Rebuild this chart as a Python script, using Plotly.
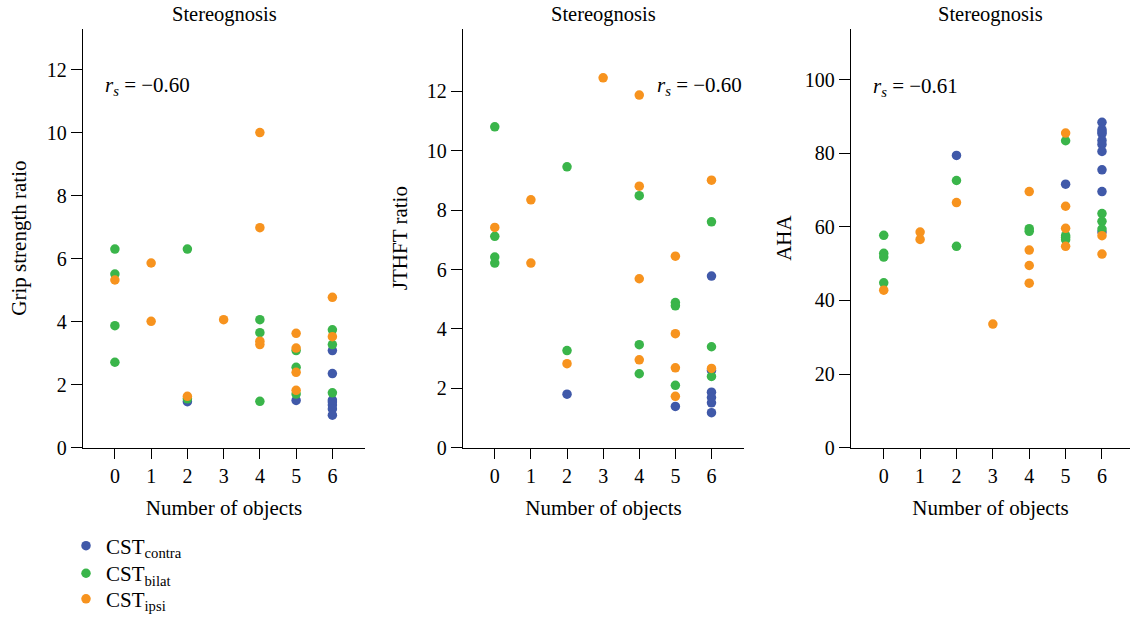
import plotly.graph_objects as go

# ---------------- data ----------------
# Panel 1: Grip strength ratio vs number of objects
grip_contra_x = [2, 5, 6, 6, 6, 6, 6, 6, 6]
grip_contra_y = [1.46, 1.50, 3.08, 2.35, 1.51, 1.45, 1.35, 1.23, 1.03]
grip_bilat_x = [0, 0, 0, 0, 2, 2, 4, 4, 4, 5, 5, 5, 6, 6, 6]
grip_bilat_y = [6.30, 5.51, 3.87, 2.71, 6.30, 1.55, 4.06, 3.65, 1.47, 3.08, 2.55, 1.70, 3.74, 3.27, 1.74]
grip_ipsi_x = [0, 1, 1, 2, 3, 4, 4, 4, 4, 5, 5, 5, 5, 6, 6]
grip_ipsi_y = [5.32, 5.86, 4.01, 1.63, 4.06, 10.0, 6.98, 3.38, 3.27, 3.63, 3.16, 2.39, 1.82, 4.77, 3.52]

# Panel 2: JTHFT ratio
jt_contra_x = [2, 5, 6, 6, 6, 6, 6, 6]
jt_contra_y = [1.80, 1.39, 5.78, 2.60, 1.87, 1.69, 1.51, 1.18]
jt_bilat_x = [0, 0, 0, 0, 2, 2, 4, 4, 4, 5, 5, 5, 6, 6, 6]
jt_bilat_y = [10.81, 7.12, 6.42, 6.22, 9.46, 3.27, 8.49, 3.47, 2.49, 4.89, 4.78, 2.10, 7.61, 3.40, 2.40]
jt_ipsi_x = [0, 1, 1, 2, 3, 4, 4, 4, 4, 5, 5, 5, 5, 6, 6]
jt_ipsi_y = [7.42, 8.35, 6.22, 2.83, 12.46, 11.88, 8.81, 5.69, 2.96, 6.45, 3.84, 2.69, 1.73, 9.01, 2.67]

# Panel 3: AHA
aha_contra_x = [2, 5, 6, 6, 6, 6, 6, 6, 6, 6, 6, 6]
aha_contra_y = [79.4, 71.6, 88.4, 86.4, 85.8, 85.3, 83.5, 82.4, 80.5, 75.5, 69.6, 58.6]
aha_bilat_x = [0, 0, 0, 0, 2, 2, 4, 4, 5, 5, 5, 5, 6, 6, 6]
aha_bilat_y = [57.7, 52.8, 51.8, 44.8, 72.6, 54.7, 59.5, 58.8, 83.4, 57.6, 57.1, 56.5, 63.6, 61.5, 59.4]
aha_ipsi_x = [0, 1, 1, 2, 3, 4, 4, 4, 4, 5, 5, 5, 5, 6, 6]
aha_ipsi_y = [42.8, 58.6, 56.6, 66.6, 33.6, 69.6, 53.7, 49.5, 44.7, 85.5, 65.6, 59.6, 54.7, 57.6, 52.6]

x_ticks = [0, 1, 2, 3, 4, 5, 6]
panel_titles = ["Stereognosis", "Stereognosis", "Stereognosis"]
y_titles = ["Grip strength ratio", "JTHFT ratio", "AHA"]
rs_texts = ["\u22120.60", "\u22120.60", "\u22120.61"]
series_names = ["CST<sub>contra</sub>", "CST<sub>bilat</sub>", "CST<sub>ipsi</sub>"]
series_colors = ["#4059A9", "#3AB54A", "#F7931E"]

# ---------------- figure ----------------
FONT = "Liberation Serif"
W, H = 1130, 620
fig = go.Figure()

panels = [
    [(grip_contra_x, grip_contra_y), (grip_bilat_x, grip_bilat_y), (grip_ipsi_x, grip_ipsi_y)],
    [(jt_contra_x, jt_contra_y), (jt_bilat_x, jt_bilat_y), (jt_ipsi_x, jt_ipsi_y)],
    [(aha_contra_x, aha_contra_y), (aha_bilat_x, aha_bilat_y), (aha_ipsi_x, aha_ipsi_y)],
]
legend_ids = ["legend", "legend2", "legend3"]

for p, series in enumerate(panels):
    xa = "x" if p == 0 else f"x{p+1}"
    ya = "y" if p == 0 else f"y{p+1}"
    for s, (xs, ys) in enumerate(series):
        fig.add_trace(go.Scatter(
            x=xs, y=ys, mode="markers", xaxis=xa, yaxis=ya,
            name=series_names[s], legendgroup=series_names[s],
            legend=legend_ids[s],
            showlegend=(p == 0),
            marker=dict(color=series_colors[s], size=9.5, line=dict(width=0)),
        ))

x_domains = [[83 / W, 365 / W], [463 / W, 744 / W], [851 / W, 1.0]]
x_ranges = [[-0.88, 6.9], [-0.88, 6.9], [-0.9, 6.77]]
y_domain = [1 - 455 / H, 1 - 29 / H]
y_ranges = [[0, 13.3], [0, 14.12], [0, 113.9]]
y_tickvals = [[0, 2, 4, 6, 8, 10, 12], [0, 2, 4, 6, 8, 10, 12], [0, 20, 40, 60, 80, 100]]
y_title_standoff = [14, 13, 7]

axis_common = dict(showline=True, linecolor="black", linewidth=1.3, ticks="outside",
                   tickcolor="black", tickwidth=1.3, ticklen=11, showgrid=False,
                   zeroline=False, automargin=False,
                   tickfont=dict(family=FONT, size=20, color="black"))

layout = {}
for p in range(3):
    xk = "xaxis" if p == 0 else f"xaxis{p+1}"
    yk = "yaxis" if p == 0 else f"yaxis{p+1}"
    layout[xk] = dict(axis_common, domain=x_domains[p], range=x_ranges[p],
                      anchor="y" if p == 0 else f"y{p+1}",
                      tickvals=x_ticks, ticklen=10,
                      title=dict(text="Number of objects", font=dict(family=FONT, size=21, color="black"), standoff=14))
    layout[yk] = dict(axis_common, domain=y_domain, range=y_ranges[p],
                      anchor="x" if p == 0 else f"x{p+1}",
                      tickvals=y_tickvals[p],
                      title=dict(text=y_titles[p], font=dict(family=FONT, size=21, color="black"),
                                 standoff=y_title_standoff[p]))

annotations = []
centers = [(x_domains[p][0] + x_domains[p][1]) / 2 for p in range(3)]
for p in range(3):
    annotations.append(dict(text=panel_titles[p], xref="paper", yref="paper",
                            x=centers[p], y=1 - 15 / H, xanchor="center", yanchor="middle",
                            showarrow=False, font=dict(family=FONT, size=20.5, color="black")))

rs_pos = [(-0.33, 11.48, "left"), (6.9, 12.19, "right"), (-0.35, 97.9, "left")]
for p in range(3):
    xr = "x" if p == 0 else f"x{p+1}"
    yr = "y" if p == 0 else f"y{p+1}"
    x0, y0, anc = rs_pos[p]
    annotations.append(dict(text=f"<i>r</i><sub><i>s</i></sub> = {rs_texts[p]}",
                            xref=xr, yref=yr, x=x0, y=y0, xanchor=anc, yanchor="middle",
                            showarrow=False, font=dict(family=FONT, size=21, color="black")))

legend_common = dict(xanchor="left", yanchor="middle",
                     font=dict(family=FONT, size=21, color="black"),
                     bgcolor="rgba(0,0,0,0)", itemwidth=30)
legend_rows = [555, 583, 609]

fig.update_layout(
    width=W, height=H,
    margin=dict(l=0, r=0, t=0, b=0),
    paper_bgcolor="white", plot_bgcolor="white",
    font=dict(family=FONT, size=18, color="black"),
    annotations=annotations,
    legend=dict(legend_common, x=66 / W, y=1 - legend_rows[0] / H),
    legend2=dict(legend_common, x=66 / W, y=1 - legend_rows[1] / H),
    legend3=dict(legend_common, x=66 / W, y=1 - legend_rows[2] / H),
    showlegend=True,
    **layout,
)

fig.write_html("out.html", config={"displayModeBar": False},
               post_script="document.body.style.margin='0';document.body.style.overflow='hidden';")
